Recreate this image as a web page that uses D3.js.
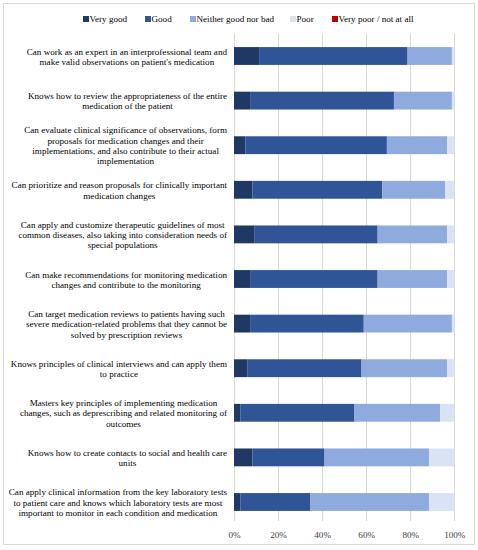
<!DOCTYPE html>
<html>
<head>
<meta charset="utf-8">
<script src="https://cdn.jsdelivr.net/npm/d3@7"></script>
<style>
  body { margin: 0; background: #fff; }
</style>
</head>
<body>
<div id="chart"></div>
<script>
// categories, each an array of wrapped lines as in the original
const items = [
  ["Can work as an expert in an interprofessional team and", "make valid observations on patient's medication"],
  ["Knows how to review the appropriateness of the entire", "medication of the patient"],
  ["Can evaluate clinical significance of observations, form", "proposals for medication changes and their", "implementations, and also contribute to their actual", "implementation"],
  ["Can prioritize and reason proposals for clinically important", "medication changes"],
  ["Can apply and customize therapeutic guidelines of most", "common diseases, also taking into consideration needs of", "special populations"],
  ["Can make recommendations for monitoring medication", "changes and contribute to the monitoring"],
  ["Can target medication reviews to patients having such", "severe medication-related problems that they cannot be", "solved by prescription reviews"],
  ["Knows principles of clinical interviews and can apply them", "to practice"],
  ["Masters key principles of implementing medication", "changes, such as deprescribing and related monitoring of", "outcomes"],
  ["Knows how to create contacts to social and health care", "units"],
  ["Can apply clinical information from the key laboratory tests", "to patient care and knows which laboratory tests are most", "important to monitor in each condition and medication"]
]

const seriesNames = ["Very good", "Good", "Neither good nor bad", "Poor", "Very poor / not at all"]
const colors = ["#1f3864", "#2f5597", "#8faadc", "#dae3f3", "#c00000"]

// percentages per item
const veryGood = [11.4, 7.3, 5.2, 8.3, 9.4, 7.3, 7.3, 6.2, 3.0, 8.3, 3.0]
const good     = [67.4, 65.3, 64.2, 59.0, 55.8, 57.9, 51.6, 51.7, 51.7, 32.8, 31.7]
const neither  = [20.1, 26.3, 27.4, 28.6, 31.6, 31.6, 40.0, 38.9, 38.9, 47.4, 53.8]
const poor     = [1.1, 1.1, 3.2, 4.1, 3.2, 3.2, 1.1, 3.2, 6.4, 11.5, 11.5]
const veryPoor = [0, 0, 0, 0, 0, 0, 0, 0, 0, 0, 0]

const xTicks = [0, 20, 40, 60, 80, 100]

const font = "Liberation Serif"
const fontSize = 9.1

const width = 478, height = 550
const margin = {top: 33.7, right: 24, bottom: 25.7, left: 234}

const svg = d3.select("#chart").append("svg")
    .attr("width", width)
    .attr("height", height)
    .attr("font-family", font)

// outer frame
svg.append("rect")
    .attr("x", 3.5).attr("y", 3.5)
    .attr("width", 471).attr("height", 541)
    .attr("fill", "none")
    .attr("stroke", "#d9d9d9")

const data = items.map((lines, i) => ({
  key: i,
  lines: lines,
  "Very good": veryGood[i],
  "Good": good[i],
  "Neither good nor bad": neither[i],
  "Poor": poor[i],
  "Very poor / not at all": veryPoor[i]
}))

const x = d3.scaleLinear()
    .domain([0, 100])
    .range([margin.left, margin.left + 220.3])

const y = d3.scaleBand()
    .domain(data.map(d => d.key))
    .range([margin.top, height - margin.bottom])
    .paddingInner(0.6)
    .paddingOuter(0.3)

const color = d3.scaleOrdinal().domain(seriesNames).range(colors)

// gridlines
svg.append("g")
    .attr("stroke", "#d9d9d9")
    .attr("stroke-width", 1)
  .selectAll("line")
  .data(xTicks)
  .enter().append("line")
    .attr("x1", d => Math.round(x(d)) + 0.5)
    .attr("x2", d => Math.round(x(d)) + 0.5)
    .attr("y1", margin.top)
    .attr("y2", 521)

// stacked bars
const stack = d3.stack().keys(seriesNames)(data)

svg.append("g")
  .selectAll("g")
  .data(stack)
  .enter().append("g")
    .attr("fill", d => color(d.key))
  .selectAll("rect")
  .data(d => d)
  .enter().append("rect")
    .attr("x", d => x(d[0]))
    .attr("y", d => y(d.data.key))
    .attr("width", d => x(d[1]) - x(d[0]))
    .attr("height", y.bandwidth())

// x axis labels
const xAxis = svg.append("g")
    .attr("transform", "translate(0," + 531.5 + ")")
    .call(d3.axisBottom(x).tickValues(xTicks).tickFormat(d => d + "%").tickSize(0).tickPadding(0))
xAxis.attr("font-family", font).attr("font-size", fontSize)
xAxis.select(".domain").remove()
xAxis.selectAll("text")
    .attr("fill", "#404040")
    .attr("dy", "0.71em")

// category labels: each wrapped block right-aligned, lines centred within it
const labelRight = 227
const lineH = 10.3
const labels = svg.append("g")
    .attr("font-family", font)
    .attr("font-size", fontSize)
    .attr("fill", "#000")
    .attr("text-anchor", "middle")

data.forEach(d => {
  const g = labels.append("g")
  const n = d.lines.length
  const cy = y(d.key) + y.bandwidth() / 2 + 0.5
  const texts = d.lines.map((line, j) => g.append("text")
      .attr("y", cy + (j - (n - 1) / 2) * lineH)
      .attr("dy", "0.35em")
      .text(line))
  const maxW = d3.max(texts, t => t.node().getComputedTextLength())
  texts.forEach(t => t.attr("x", labelRight - maxW / 2))
})

// legend
const legendX = [83, 145, 190, 290, 332]
const legend = svg.append("g")
    .attr("font-family", font)
    .attr("font-size", fontSize)
  .selectAll("g")
  .data(seriesNames)
  .enter().append("g")
    .attr("transform", (d, i) => "translate(" + legendX[i] + ",19)")

legend.append("rect")
    .attr("x", 0).attr("y", -3)
    .attr("width", 6).attr("height", 6)
    .attr("fill", d => color(d))

legend.append("text")
    .attr("x", 6.5)
    .attr("dy", "0.35em")
    .attr("fill", "#000")
    .text(d => d)
</script>
</body>
</html>
